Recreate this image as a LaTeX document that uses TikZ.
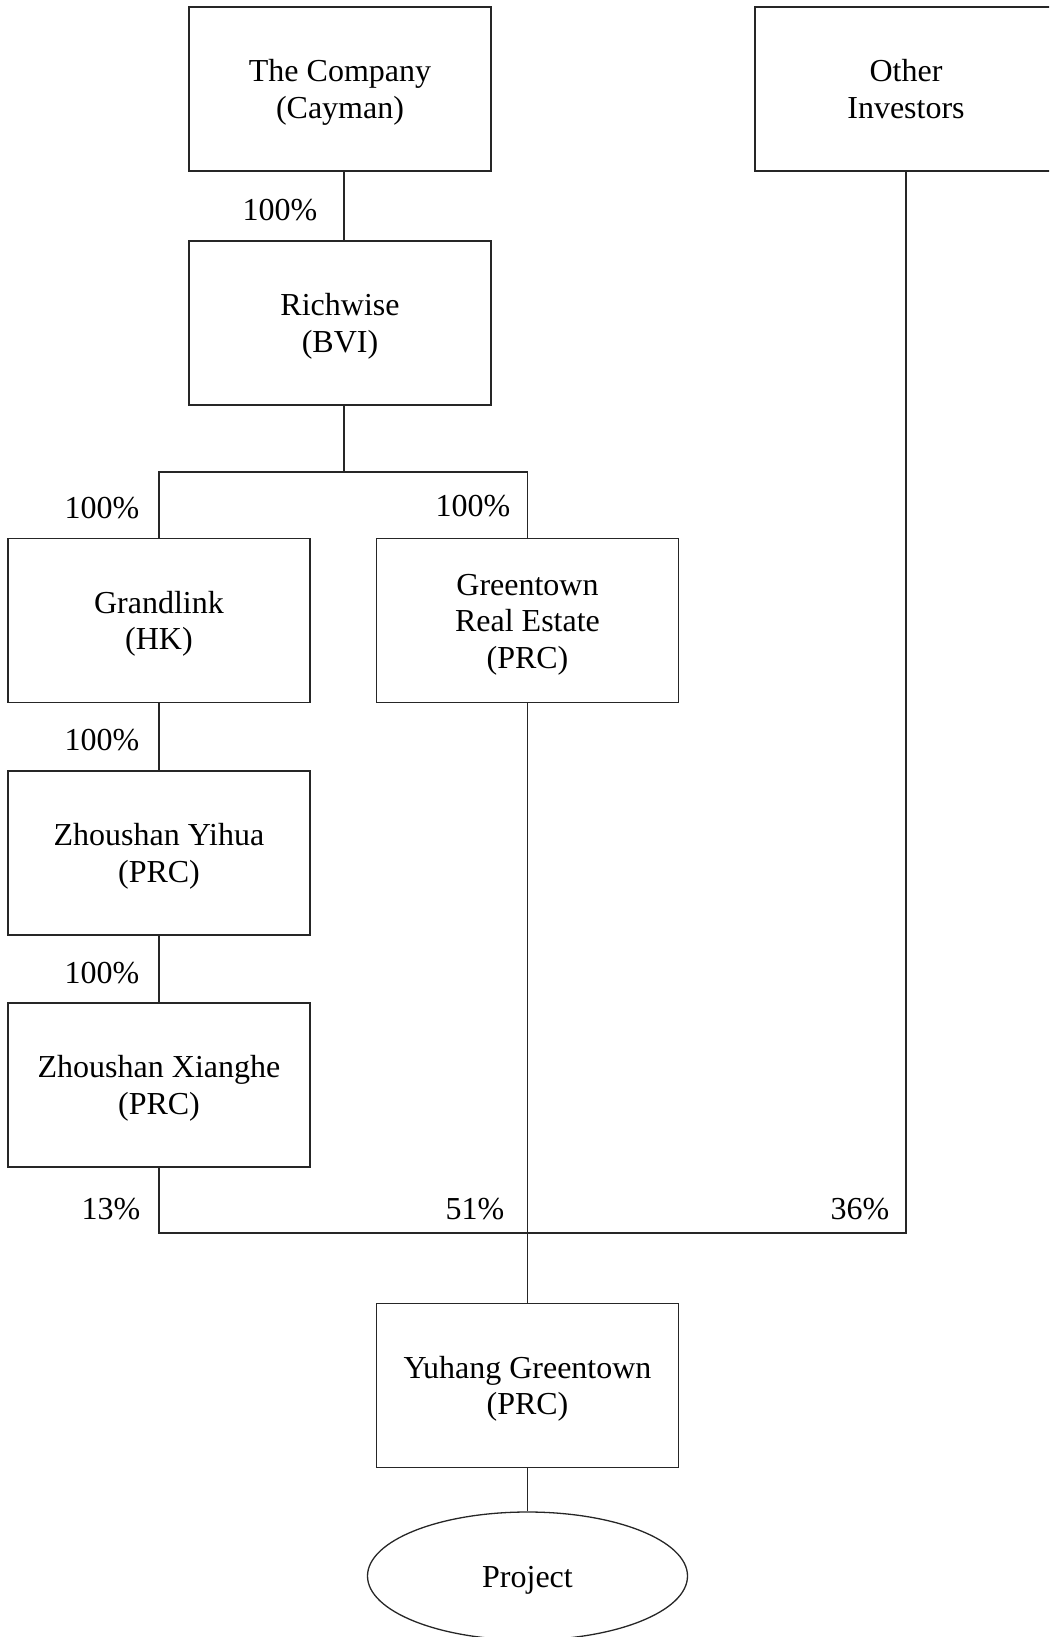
\documentclass[tikz,border=0pt]{standalone}
\usepackage{fontspec}
\setmainfont{Liberation Serif}
\usetikzlibrary{shapes.geometric}
\newcommand\boxtxt[1]{\raisebox{-3.8pt}[\height][\depth]{\setlength\tabcolsep{0pt}\begin{tabular}{c}#1\end{tabular}}}
\begin{document}
\begin{tikzpicture}[x=1pt,y=-1pt,
  box/.style={draw=black!85, line width=1.3pt, rectangle, minimum width=302pt, minimum height=164pt, inner sep=0pt, font=\fontsize{32}{36.6}\selectfont},
  pct/.style={inner sep=0pt, font=\fontsize{32}{36.6}\selectfont},
  conn/.style={draw=black!85, line width=1.3pt}]
\clip (0,0) rectangle (1049,1637);
\node[box] (company) at (340,89) {\boxtxt{The Company\\(Cayman)}};
\node[box] (other) at (906,89) {\boxtxt{Other\\Investors}};
\node[box] (rich) at (340,323) {\boxtxt{Richwise\\(BVI)}};
\node[box] (grand) at (159,620.5) {\boxtxt{Grandlink\\(HK)}};
\node[box] (gre) at (527.5,620.5) {\boxtxt{Greentown\\Real Estate\\(PRC)}};
\node[box] (yihua) at (159,853) {\boxtxt{Zhoushan Yihua\\(PRC)}};
\node[box] (xiang) at (159,1085) {\boxtxt{Zhoushan Xianghe\\(PRC)}};
\node[box] (yuhang) at (527.5,1385.5) {\boxtxt{Yuhang Greentown\\(PRC)}};
\node[draw=black!85, line width=1.3pt, ellipse, minimum width=320pt, minimum height=128pt, inner sep=0pt, font=\fontsize{32}{36.6}\selectfont] (proj) at (527.5,1576) {\boxtxt{Project}};
\coordinate (b1) at (344,472);
\coordinate (b2) at (527.5,1233);
\draw[conn] ([xshift=4pt]company.south) -- ([xshift=4pt]rich.north);
\draw[conn] ([xshift=4pt]rich.south) -- (b1);
\draw[conn] (grand.north) |- (b1) -| (gre.north);
\draw[conn] (grand.south) -- (yihua.north);
\draw[conn] (yihua.south) -- (xiang.north);
\draw[conn] (xiang.south) |- (b2) -| (other.south);
\draw[conn] (gre.south) -- (yuhang.north);
\draw[conn] (yuhang.south) -- (proj.north);
\node[pct] (l1) at (280,210) {100\%};
\node[pct] (l2) at (102,508) {100\%};
\node[pct] (l3) at (473,506) {100\%};
\node[pct] (l4) at (102,740) {100\%};
\node[pct] (l5) at (102,973) {100\%};
\node[pct] (l6) at (111,1209) {13\%};
\node[pct] (l7) at (475,1209) {51\%};
\node[pct] (l8) at (860,1209) {36\%};
\end{tikzpicture}
\end{document}
